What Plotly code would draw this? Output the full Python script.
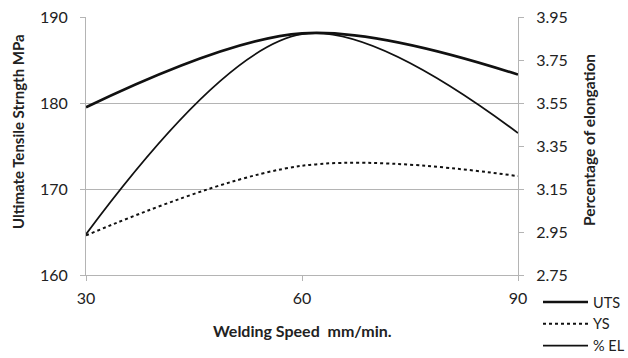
import plotly.graph_objects as go

speed = [30, 60, 90]
uts = [179.5, 188.1, 183.3]
ys = [164.6, 172.7, 171.5]
el = [2.94, 3.87, 3.41]

left_ticks = [160, 170, 180, 190]
right_ticks = [2.75, 2.95, 3.15, 3.35, 3.55, 3.75, 3.95]

FONT = "Lato"
GRID = "#b4b4b4"

fig = go.Figure()
fig.add_trace(go.Scatter(x=speed, y=uts, name="UTS", mode="lines",
                         line=dict(color="#111111", width=2.6, shape="spline", smoothing=1)))
fig.add_trace(go.Scatter(x=speed, y=ys, name="YS", mode="lines",
                         line=dict(color="#111111", width=2, dash="dot", shape="spline", smoothing=1)))
fig.add_trace(go.Scatter(x=speed, y=el, name="% EL", mode="lines", yaxis="y2",
                         line=dict(color="#111111", width=1.8, shape="spline", smoothing=1)))

fig.update_layout(
    width=628, height=358,
    margin=dict(l=86, r=110, t=17, b=83, autoexpand=False),
    paper_bgcolor="white", plot_bgcolor="white",
    font=dict(family=FONT, size=15, color="#222222"),
    xaxis=dict(range=[30, 90], tickvals=speed, ticktext=[str(v) for v in speed],
               showgrid=False, zeroline=False, showline=True, linecolor=GRID, linewidth=1,
               ticks="outside", ticklen=5, tickcolor=GRID, mirror=False,
               tickfont=dict(size=16), ticklabelstandoff=4),
    yaxis=dict(range=[160, 190], tickvals=left_ticks, showgrid=True, gridcolor=GRID,
               gridwidth=1, zeroline=False, showline=True, linecolor=GRID,
               ticks="outside", ticklen=5, tickcolor=GRID, tickfont=dict(size=16),
               ticklabelstandoff=9),
    yaxis2=dict(range=[2.75, 3.95], tickvals=right_ticks,
                ticktext=[f"{v:.2f}" for v in right_ticks],
                overlaying="y", side="right", showgrid=False, zeroline=False,
                showline=True, linecolor=GRID, ticks="outside", ticklen=5, tickcolor=GRID,
                tickfont=dict(size=16), ticklabelstandoff=9),
    showlegend=True,
    legend=dict(xref="container", yref="container", x=538/628, y=1 - 286/358,
                xanchor="left", yanchor="top", bgcolor="rgba(0,0,0,0)",
                font=dict(size=14.5), itemwidth=45, tracegroupgap=0),
    annotations=[
        dict(text="<b>Ultimate Tensile Strngth MPa</b>", xref="paper", yref="paper",
             x=-(86 - 18) / 432, y=(275 - 132) / 258, textangle=-90, showarrow=False,
             font=dict(size=15), xanchor="center", yanchor="middle"),
        dict(text="<b>Percentage of elongation</b>", xref="paper", yref="paper",
             x=(589 - 86) / 432, y=(275 - 140) / 258, textangle=-90, showarrow=False,
             font=dict(size=15.5), xanchor="center", yanchor="middle"),
        dict(text="<b>Welding Speed&nbsp; mm/min.</b>", xref="paper", yref="paper",
             x=0.5, y=-(330 - 275) / 258, showarrow=False, font=dict(size=16),
             xanchor="center", yanchor="middle"),
    ],
)

fig.write_html("out.html")
